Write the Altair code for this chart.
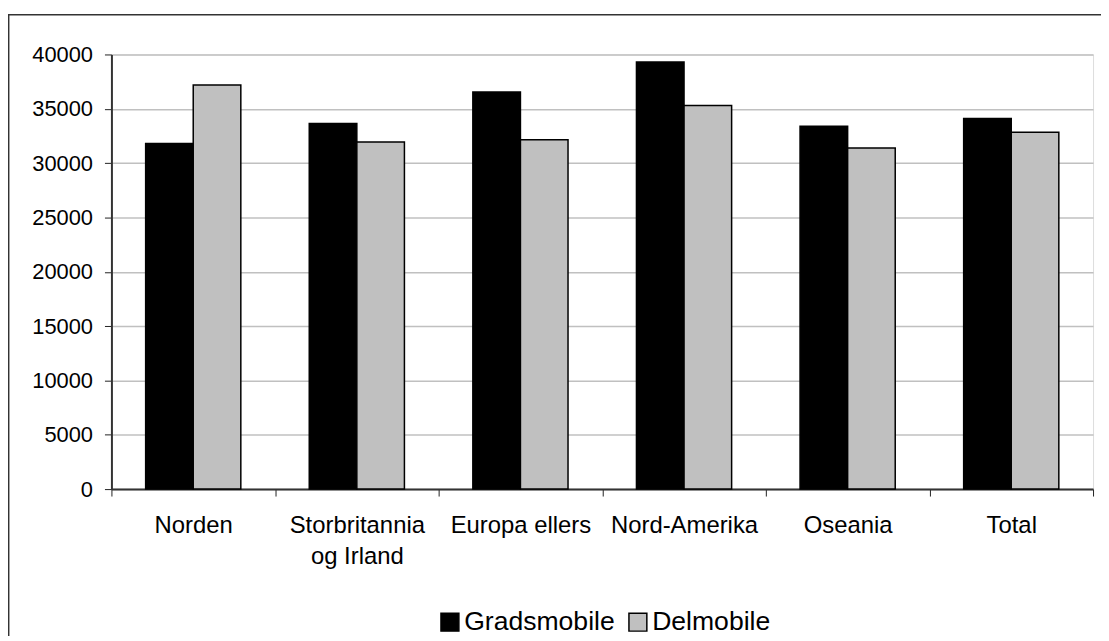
import altair as alt
import pandas as pd

categories = ["Norden", "Storbritannia\nog Irland", "Europa ellers", "Nord-Amerika", "Oseania", "Total"]
series = ["Gradsmobile", "Delmobile"]
gradsmobile = [31800, 33650, 36550, 39300, 33400, 34100]
delmobile = [37200, 31950, 32150, 35300, 31400, 32850]
y_ticks = [0, 5000, 10000, 15000, 20000, 25000, 30000, 35000, 40000]
colors = ["#000000", "#c0c0c0"]

rows = []
for i, c in enumerate(categories):
    rows.append({"Region": c, "Serie": series[0], "Verdi": gradsmobile[i]})
    rows.append({"Region": c, "Serie": series[1], "Verdi": delmobile[i]})
df = pd.DataFrame(rows)

W, H = 987, 437
FONT = "Liberation Sans"

bars = alt.Chart(df).mark_bar(stroke="black", strokeWidth=1.5).encode(
    x=alt.X(
        "Region:N",
        sort=categories,
        title=None,
        scale=alt.Scale(paddingInner=0, paddingOuter=0),
        axis=alt.Axis(
            labelAngle=0,
            labelFontSize=24,
            labelFont=FONT,
            labelColor="black",
            labelPadding=18,
            labelLineHeight=31,
            labelExpr="split(datum.label, '\\n')",
            tickBand="extent",
            tickSize=7,
            tickColor="#222222",
            tickWidth=1,
            domainColor="#333333",
            domainWidth=2,
            grid=False,
        ),
    ),
    xOffset=alt.XOffset(
        "Serie:N",
        sort=series,
        scale=alt.Scale(paddingInner=0, paddingOuter=0.719),
    ),
    y=alt.Y(
        "Verdi:Q",
        title=None,
        scale=alt.Scale(domain=[0, 40000], nice=False, zero=True),
        axis=alt.Axis(
            values=y_ticks,
            format="d",
            labelFontSize=22,
            labelFont=FONT,
            labelColor="black",
            labelPadding=12,
            tickSize=7,
            tickColor="#222222",
            tickWidth=1,
            domainColor="#333333",
            domainWidth=2,
            grid=True,
            gridColor="#c0c0c0",
            gridWidth=1.5,
        ),
    ),
    color=alt.Color(
        "Serie:N",
        sort=series,
        scale=alt.Scale(domain=series, range=colors),
        legend=alt.Legend(
            title=None,
            orient="none",
            direction="horizontal",
            legendX=327,
            legendY=557,
            symbolType="square",
            symbolSize=324,
            symbolStrokeColor="black",
            symbolStrokeWidth=1.5,
            symbolOpacity=1,
            labelFontSize=26.7,
            labelFont=FONT,
            labelColor="black",
            labelOffset=1,
            columnPadding=10,
            padding=0,
        ),
    ),
)

one = pd.DataFrame({"a": [0]})
left_border = alt.Chart(one).mark_rule(color="#333333", strokeWidth=1.5).encode(
    x=alt.value(-103.3), y=alt.value(-40), y2=alt.value(H + 200)
)
top_border = alt.Chart(one).mark_rule(color="#333333", strokeWidth=1.5).encode(
    x=alt.value(-104), x2=alt.value(W + 50), y=alt.value(-40)
)

chart = alt.layer(left_border, top_border, bars).properties(
    width=W,
    height=H,
    autosize=alt.AutoSizeParams(type="none"),
    padding={"left": 104, "top": 45, "right": 8, "bottom": 146},
).configure_view(
    stroke="#999999", strokeWidth=2
).configure(background="white")

chart.save("out.html", embed_options={"renderer": "svg", "actions": False})
